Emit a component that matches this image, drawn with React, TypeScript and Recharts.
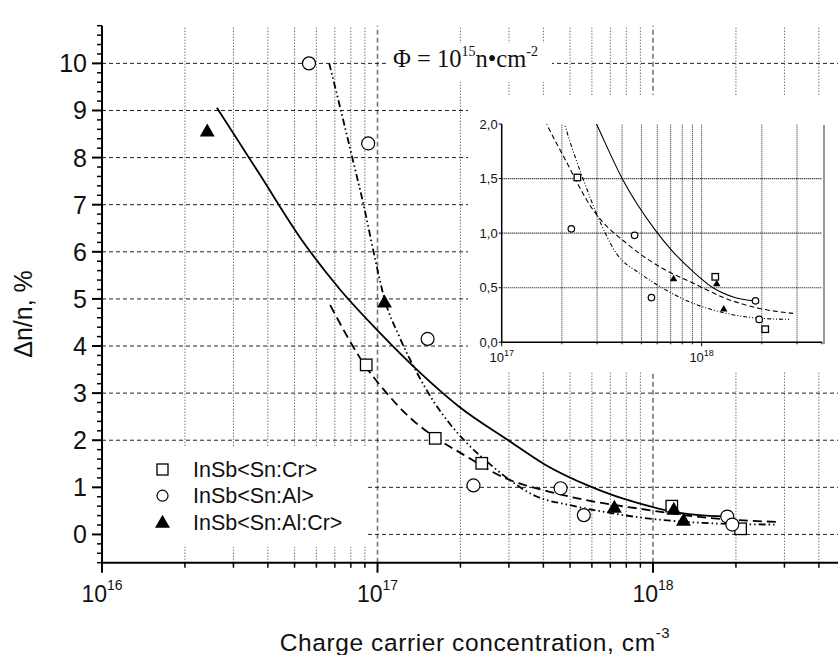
import React from 'react';
import { ComposedChart, Line, Scatter, XAxis, YAxis, ReferenceLine, Legend } from 'recharts';

const FONT = '"Liberation Sans", Arial, sans-serif';
const SERIF = '"Liberation Serif", "Times New Roman", serif';

// measured points
const crName = 'InSb<Sn:Cr>';
const crX = [9.1e16, 1.62e17, 2.39e17, 1.17e18, 2.08e18];
const crY = [3.6, 2.04, 1.51, 0.6, 0.12];

const alName = 'InSb<Sn:Al>';
const alX = [5.64e16, 9.25e16, 1.52e17, 2.23e17, 4.62e17, 5.61e17, 1.86e18, 1.94e18];
const alY = [10.0, 8.3, 4.15, 1.04, 0.98, 0.41, 0.38, 0.21];

const alCrName = 'InSb<Sn:Al:Cr>';
const alCrX = [2.41e16, 1.06e17, 7.24e17, 1.19e18, 1.29e18];
const alCrY = [8.57, 4.94, 0.585, 0.54, 0.31];

const legendOrder = [crName, alName, alCrName];

// fit curves (solid, dashed, dash-dot-dot)
const solidX = [2.61e16, 3.74e16, 5.24e16, 7.31e16, 1.02e17, 1.43e17, 1.99e17, 2.98e17, 4.06e17, 5.85e17, 7.1e17, 9.1e17, 1.14e18, 1.44e18, 1.86e18];
const solidY = [9.06, 7.64, 6.3, 5.2, 4.28, 3.43, 2.7, 2.0, 1.48, 1.03, 0.84, 0.645, 0.5, 0.415, 0.378];

const dashX = [6.73e16, 9.1e16, 1.08e17, 1.3e17, 1.7e17, 2.03e17, 2.87e17, 4.22e17, 6.2e17, 9.1e17, 1.33e18, 1.95e18, 2.87e18];
const dashY = [4.87, 3.55, 3.0, 2.5, 1.98, 1.71, 1.21, 0.905, 0.69, 0.54, 0.4, 0.31, 0.265];

const dotX = [6.68e16, 7.4e16, 8.1e16, 8.9e16, 9.8e16, 1.06e17, 1.2e17, 1.4e17, 1.6e17, 1.83e17, 2.11e17, 2.61e17, 2.98e17, 3.76e17, 4.92e17, 6.2e17, 9.1e17, 1.33e18, 1.95e18, 2.76e18];
const dotY = [10.0, 8.95, 8.0, 7.0, 5.85, 5.0, 4.2, 3.4, 2.82, 2.35, 1.94, 1.45, 1.18, 0.81, 0.63, 0.51, 0.356, 0.265, 0.22, 0.21];

// axes
const mantissas = [1, 2, 3, 4, 5, 6, 7, 8, 9];
const mainDecades = [16, 17, 18];
const mainXTicks = [...mainDecades.flatMap((e) => mantissas.map((m) => m * 10 ** e)), 1e19];
const mainYTicks = Array.from({ length: 58 }, (_, i) => +(-0.6 + i * 0.2).toFixed(1));
const mainYGrid = [0, 1, 2, 3, 4, 5, 6, 7, 8, 9, 10];

const insetXTicks = [...mantissas.map((m) => m * 1e17), 1e18, 2e18, 3e18, 4e18];
const insetYTicks = [0, 0.5, 1, 1.5, 2];

const zip = (xs: number[], ys: number[]) => xs.map((x, i) => ({ x, y: ys[i] }));
const crData = zip(crX, crY);
const alData = zip(alX, alY);
const alCrData = zip(alCrX, alCrY);
const solidData = zip(solidX, solidY);
const dashData = zip(dashX, dashY);
const dotData = zip(dotX, dotY);

const isDecade = (v: number) => Math.abs(Math.log10(v) - Math.round(Math.log10(v))) < 1e-9;

type Kind = 'square' | 'circle' | 'triangle';
const kindOf: Record<string, Kind> = { [crName]: 'square', [alName]: 'circle', [alCrName]: 'triangle' };

function Marker({ kind, cx, cy, s }: { kind: Kind; cx: number; cy: number; s: number }) {
  if (kind === 'square') {
    return <rect x={cx - s / 2} y={cy - s / 2} width={s} height={s} fill="#fff" stroke="#000" strokeWidth={1.3} />;
  }
  if (kind === 'circle') {
    return <circle cx={cx} cy={cy} r={s / 2} fill="#fff" stroke="#000" strokeWidth={1.2} />;
  }
  const w = s * 1.15;
  const h = s;
  return (
    <polygon
      points={`${cx},${cy - h * 0.55} ${cx - w / 2},${cy + h * 0.45} ${cx + w / 2},${cy + h * 0.45}`}
      fill="#000"
    />
  );
}

const shapeOf = (kind: Kind, s: number) => (p: any) => <Marker kind={kind} cx={p.cx} cy={p.cy} s={s} />;

function MainXTick(p: any) {
  const { x, y, payload } = p;
  const v = payload.value;
  const dec = isDecade(v);
  return (
    <g>
      <line x1={x} x2={x} y1={y} y2={y + (dec ? 10 : 5)} stroke="#000" strokeWidth={dec ? 2 : 1.5} />
      {dec && v < 1e19 && (
        <text x={x} y={y + 39.5} textAnchor="middle" fontSize={23} fontFamily={FONT} fill="#111">
          10
          <tspan fontSize={14} dy={-12}>
            {Math.round(Math.log10(v))}
          </tspan>
        </text>
      )}
    </g>
  );
}

function MainTopTick(p: any) {
  const { x, y, payload } = p;
  const dec = isDecade(payload.value);
  return <line x1={x} x2={x} y1={y} y2={y - (dec ? 8 : 5)} stroke="#000" strokeWidth={dec ? 2 : 1.5} />;
}

function MainYTick(p: any) {
  const { x, y, payload } = p;
  const v = payload.value;
  const major = Math.abs(v - Math.round(v)) < 1e-6 && v >= 0;
  return (
    <g>
      <line x1={x - (major ? 10 : 5)} x2={x} y1={y} y2={y} stroke="#000" strokeWidth={major ? 2 : 1.5} />
      {major && (
        <text x={x - 15} y={y + 9} textAnchor="end" fontSize={25} fontFamily={FONT} fill="#111">
          {Math.round(v)}
        </text>
      )}
    </g>
  );
}

function InsetXTick(p: any) {
  const { x, y, payload } = p;
  const v = payload.value;
  const dec = isDecade(v);
  return (
    <g>
      <line x1={x} x2={x} y1={y} y2={y + (dec ? 4 : 2)} stroke="#000" strokeWidth={1} />
      {dec && (
        <text x={x} y={y + 20} textAnchor="middle" fontSize={13} fontFamily={FONT} fill="#111">
          10
          <tspan fontSize={9} dy={-6}>
            {Math.round(Math.log10(v))}
          </tspan>
        </text>
      )}
    </g>
  );
}

function InsetYTick(p: any) {
  const { x, y, payload } = p;
  const v = payload.value;
  return (
    <g>
      <line x1={x - 3} x2={x} y1={y} y2={y} stroke="#000" strokeWidth={1} />
      <text x={x - 4} y={y + 4.5} textAnchor="end" fontSize={13} fontFamily={FONT} fill="#111">
        {v.toFixed(1).replace('.', ',')}
      </text>
    </g>
  );
}

const XTitle = () => (
  <text x={475} y={651} textAnchor="middle" fontSize={24.5} letterSpacing={0.6} fontFamily={FONT} fill="#111">
    Charge carrier concentration, cm
    <tspan fontSize={15} dy={-13}>
      -3
    </tspan>
  </text>
);

const YTitle = () => (
  <text
    x={22.5}
    y={314}
    textAnchor="middle"
    dominantBaseline="central"
    fontSize={25}
    fontFamily={FONT}
    fill="#111"
    transform="rotate(-90 22.5 314)"
  >
    Δn/n, %
  </text>
);

const renderLegend = () => (
  <svg width={264} height={100}>
    {legendOrder.map((name, i) => {
      const cy = 22.5 + i * 26.2;
      const kind = kindOf[name];
      return (
        <g key={name}>
          <Marker kind={kind} cx={59.5} cy={cy} s={kind === 'triangle' ? 13 : 11} />
          <text x={90} y={cy + 7.7} fontSize={21.5} fontFamily={FONT} fill="#111">
            {name}
          </text>
        </g>
      );
    })}
  </svg>
);

const mainVGrid = mainDecades.flatMap((e) => mantissas.slice(1).map((m) => m * 10 ** e));
const mainDecGrid = [1e17, 1e18];
const insetVGrid = [...mantissas.slice(1).map((m) => m * 1e17), 1e18, 2e18, 3e18];
const insetHGrid = [0.5, 1, 1.5];

function MainChart() {
  return (
    <ComposedChart width={940} height={655} margin={{ top: 25.7, right: 11.5, bottom: 0, left: 42 }}>
      <XAxis
        xAxisId="b"
        dataKey="x"
        type="number"
        scale="log"
        domain={[1e16, 1e19]}
        allowDataOverflow
        ticks={mainXTicks}
        interval={0}
        tick={(p: any) => <MainXTick {...p} />}
        tickLine={false}
        tickSize={0}
        tickMargin={0}
        height={92.3}
        axisLine={{ stroke: '#000', strokeWidth: 2 }}
        label={{ content: XTitle }}
      />
      <XAxis
        xAxisId="t"
        orientation="top"
        dataKey="x"
        type="number"
        scale="log"
        domain={[1e16, 1e19]}
        allowDataOverflow
        ticks={mainXTicks}
        interval={0}
        tick={(p: any) => <MainTopTick {...p} />}
        tickLine={false}
        tickSize={0}
        tickMargin={0}
        height={0}
        axisLine={{ stroke: '#000', strokeWidth: 2 }}
      />
      <YAxis
        yAxisId="l"
        dataKey="y"
        type="number"
        domain={[-0.6, 10.8]}
        allowDataOverflow
        ticks={mainYTicks}
        interval={0}
        tick={(p: any) => <MainYTick {...p} />}
        tickLine={false}
        tickSize={0}
        tickMargin={0}
        width={60}
        axisLine={{ stroke: '#000', strokeWidth: 2 }}
        label={{ content: YTitle }}
      />
      {mainVGrid.map((v) => (
        <ReferenceLine key={'v' + v} xAxisId="b" yAxisId="l" x={v} stroke="#333" strokeWidth={1} strokeDasharray="1 2" />
      ))}
      {mainDecGrid.map((v) => (
        <ReferenceLine key={'d' + v} xAxisId="b" yAxisId="l" x={v} stroke="#777" strokeWidth={1.6} strokeDasharray="5 3" />
      ))}
      {mainYGrid.map((v) => (
        <ReferenceLine key={'h' + v} xAxisId="b" yAxisId="l" y={v} stroke="#222" strokeWidth={1} strokeDasharray="4 3" />
      ))}
      <Line xAxisId="b" yAxisId="l" data={solidData} dataKey="y" type="monotone" stroke="#000" strokeWidth={1.8} dot={false} legendType="none" isAnimationActive={false} />
      <Line xAxisId="b" yAxisId="l" data={dashData} dataKey="y" type="monotone" stroke="#000" strokeWidth={1.8} strokeDasharray="9 5" dot={false} legendType="none" isAnimationActive={false} />
      <Line xAxisId="b" yAxisId="l" data={dotData} dataKey="y" type="monotone" stroke="#000" strokeWidth={1.8} strokeDasharray="7 3 1.5 3 1.5 3" dot={false} legendType="none" isAnimationActive={false} />
      <Scatter xAxisId="b" yAxisId="l" name={crName} data={crData} dataKey="y" shape={shapeOf('square', 11.5)} isAnimationActive={false} />
      <Scatter xAxisId="b" yAxisId="l" name={alName} data={alData} dataKey="y" shape={shapeOf('circle', 13)} isAnimationActive={false} />
      <Scatter xAxisId="b" yAxisId="l" name={alCrName} data={alCrData} dataKey="y" shape={shapeOf('triangle', 13)} isAnimationActive={false} />
      <Legend
        layout="vertical"
        align="center"
        verticalAlign="middle"
        content={renderLegend}
        wrapperStyle={{ position: 'absolute', left: 103, top: 447, width: 264, height: 100, background: '#fff' }}
      />
    </ComposedChart>
  );
}

function InsetChart() {
  return (
    <ComposedChart width={370} height={277} margin={{ top: 29, right: 16, bottom: 0, left: 0 }}>
      <XAxis
        xAxisId="b"
        dataKey="x"
        type="number"
        scale="log"
        domain={[1e17, 4e18]}
        allowDataOverflow
        ticks={insetXTicks}
        interval={0}
        tick={(p: any) => <InsetXTick {...p} />}
        tickLine={false}
        tickSize={0}
        tickMargin={0}
        height={29.7}
        axisLine={{ stroke: '#000', strokeWidth: 1.5 }}
      />
      <XAxis xAxisId="t" orientation="top" dataKey="x" type="number" scale="log" domain={[1e17, 4e18]} allowDataOverflow tick={false} tickLine={false} height={0} axisLine={{ stroke: '#000', strokeWidth: 1.5 }} />
      <YAxis
        yAxisId="l"
        dataKey="y"
        type="number"
        domain={[0, 2]}
        allowDataOverflow
        ticks={insetYTicks}
        interval={0}
        tick={(p: any) => <InsetYTick {...p} />}
        tickLine={false}
        tickSize={0}
        tickMargin={0}
        width={33.7}
        axisLine={{ stroke: '#000', strokeWidth: 1.5 }}
      />
      <YAxis yAxisId="r" orientation="right" dataKey="y" type="number" domain={[0, 2]} allowDataOverflow tick={false} tickLine={false} width={0} axisLine={{ stroke: '#000', strokeWidth: 1.5 }} />
      {insetVGrid.map((v) => (
        <ReferenceLine key={'v' + v} xAxisId="b" yAxisId="l" x={v} stroke="#222" strokeWidth={1} strokeDasharray="1 1" />
      ))}
      {insetHGrid.map((v) => (
        <ReferenceLine key={'h' + v} xAxisId="b" yAxisId="l" y={v} stroke="#000" strokeWidth={1.2} strokeDasharray="1 1" />
      ))}
      <Line xAxisId="b" yAxisId="l" data={solidData} dataKey="y" type="monotone" stroke="#000" strokeWidth={1.1} dot={false} legendType="none" isAnimationActive={false} />
      <Line xAxisId="b" yAxisId="l" data={dashData} dataKey="y" type="monotone" stroke="#000" strokeWidth={1.1} strokeDasharray="5 3" dot={false} legendType="none" isAnimationActive={false} />
      <Line xAxisId="b" yAxisId="l" data={dotData} dataKey="y" type="monotone" stroke="#000" strokeWidth={1.1} strokeDasharray="4 2 1 2 1 2" dot={false} legendType="none" isAnimationActive={false} />
      <Scatter xAxisId="b" yAxisId="l" name={crName} data={crData} dataKey="y" shape={shapeOf('square', 6.5)} isAnimationActive={false} />
      <Scatter xAxisId="b" yAxisId="l" name={alName} data={alData} dataKey="y" shape={shapeOf('circle', 6.5)} isAnimationActive={false} />
      <Scatter xAxisId="b" yAxisId="l" name={alCrName} data={alCrData} dataKey="y" shape={shapeOf('triangle', 6.5)} isAnimationActive={false} />
    </ComposedChart>
  );
}

export default function App() {
  return (
    <div style={{ position: 'fixed', left: 0, top: 0, width: 838, height: 655, overflow: 'hidden', background: '#fff' }}>
      <MainChart />
      <svg style={{ position: 'absolute', left: 386, top: 43 }} width={166} height={39}>
        <rect x={0} y={0} width={166} height={39} fill="#fff" />
        <text x={7} y={23.7} fontSize={24.5} fontFamily={SERIF} fill="#111">
          Φ = 10
          <tspan fontSize={14} dy={-11}>
            15
          </tspan>
          <tspan dy={11}>n•cm</tspan>
          <tspan fontSize={14} dy={-11}>
            -2
          </tspan>
        </text>
      </svg>
      <div style={{ position: 'absolute', left: 468, top: 95, width: 370, height: 277, background: '#fff' }}>
        <div style={{ position: 'absolute', left: 355, top: 30, width: 2, height: 219, background: '#999' }} />
        <InsetChart />
      </div>
    </div>
  );
}
